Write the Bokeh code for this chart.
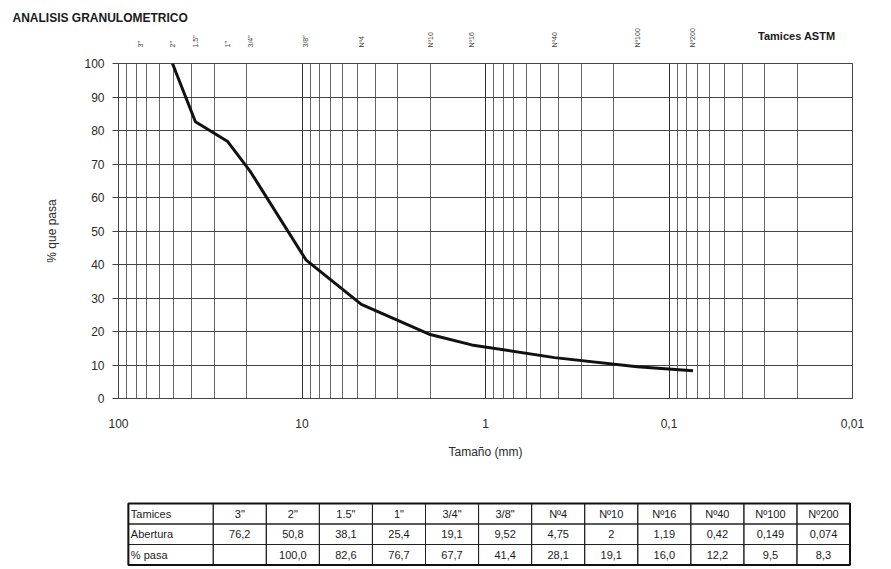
from bokeh.plotting import figure
from bokeh.models import Range1d, FixedTicker, LogAxis, Title
from bokeh.layouts import column
from bokeh.embed import file_html
from bokeh.resources import INLINE
from bokeh.core.properties import value

# ---- data ----
tamices = ['3"', '2"', '1.5"', '1"', '3/4"', '3/8"', 'Nº4', 'Nº10', 'Nº16', 'Nº40', 'Nº100', 'Nº200']
abertura = [76.2, 50.8, 38.1, 25.4, 19.1, 9.52, 4.75, 2.0, 1.19, 0.42, 0.149, 0.074]
pasa = [None, 100.0, 82.6, 76.7, 67.7, 41.4, 28.1, 19.1, 16.0, 12.2, 9.5, 8.3]
y_ticks = [0, 10, 20, 30, 40, 50, 60, 70, 80, 90, 100]
x_ticks = [100, 10, 1, 0.1, 0.01]
x_tick_labels = ["100", "10", "1", "0,1", "0,01"]
row_names = ["Tamices", "Abertura", "% pasa"]

FONT = "Liberation Sans"
INK = "#1a1a1a"

# minor log grid positions (2..9 per decade)
minor = []
for e in range(-2, 2):
    for m in range(2, 10):
        minor.append(m * 10 ** e)

p = figure(width=891, height=498, x_axis_type="log",
           x_range=Range1d(100, 0.01), y_range=Range1d(0, 100),
           output_backend="svg", toolbar_location=None,
           min_border_left=118, min_border_right=39,
           min_border_top=63, min_border_bottom=100)
p.background_fill_color = "white"
p.border_fill_color = "white"
p.outline_line_color = "#444444"

p.xaxis.ticker = FixedTicker(ticks=x_ticks, minor_ticks=minor)
p.xaxis.major_label_overrides = {t: l for t, l in zip(x_ticks, x_tick_labels)}
p.yaxis.ticker = FixedTicker(ticks=y_ticks)

for ax in (p.xaxis[0], p.yaxis[0]):
    ax.major_label_text_font = FONT
    ax.major_label_text_font_size = "12px"
    ax.major_label_text_color = "#2a2a2a"
    ax.axis_label_text_font = FONT
    ax.axis_label_text_font_size = "12px"
    ax.axis_label_text_font_style = "normal"
    ax.axis_label_text_color = "#2a2a2a"
    ax.minor_tick_line_color = None
    ax.axis_line_color = "#444444"

p.xaxis.axis_label = "Tamaño (mm)"
p.xaxis.major_tick_line_color = None
p.xaxis.major_label_standoff = 14
p.xaxis.axis_label_standoff = 14
p.yaxis.axis_label = "% que pasa"
p.yaxis.major_tick_in = 0
p.yaxis.major_tick_out = 6
p.yaxis.major_tick_line_color = "#444444"
p.yaxis.major_label_standoff = 8
p.yaxis.axis_label_standoff = 22

p.xgrid.grid_line_color = "#333333"
p.xgrid.grid_line_alpha = 1
p.xgrid.minor_grid_line_color = "#666666"
p.xgrid.minor_grid_line_alpha = 1
p.ygrid.grid_line_color = "#444444"
p.ygrid.grid_line_alpha = 1

xs = [a for a, v in zip(abertura, pasa) if v is not None]
ys = [v for v in pasa if v is not None]
p.line(xs, ys, line_color="#111111", line_width=3)

# sieve names above the chart (top axis)
top_ax = LogAxis(ticker=FixedTicker(ticks=abertura),
                 major_label_overrides={a: s for a, s in zip(abertura, tamices)},
                 major_label_orientation="vertical",
                 major_label_standoff=10,
                 major_label_text_font=FONT, major_label_text_font_size="7px",
                 major_label_text_color="#444444",
                 major_tick_line_color=None, minor_tick_line_color=None,
                 axis_line_color=None)
p.add_layout(top_ax, "above")

p.add_layout(Title(text="Tamices ASTM", align="right", offset=17, standoff=-33,
                   text_font=FONT, text_font_size="11px", text_font_style="bold",
                   text_color=INK), "above")
p.add_layout(Title(text="ANALISIS GRANULOMETRICO", align="left", offset=-106, standoff=2,
                   text_font=FONT, text_font_size="12px", text_font_style="bold",
                   text_color=INK), "above")

# ---- table ----
t = figure(width=891, height=71, x_range=Range1d(0, 891), y_range=Range1d(71, 0),
           output_backend="svg", toolbar_location=None, min_border=0)
t.axis.visible = False
t.grid.visible = False
t.outline_line_color = None
t.background_fill_color = "white"
t.border_fill_color = "white"

x0, first_w, x_end = 12, 103, 888
n = len(tamices)
cw = (x_end - x0 - first_w) / n
lefts = [x0] + [x0 + first_w + i * cw for i in range(n)]
rights = [x0 + first_w] + [x0 + first_w + (i + 1) * cw for i in range(n)]
row_top, rh = 5, 20.5

def fmt_ab(v):
    return f"{v:g}".replace(".", ",")

def fmt_pa(v):
    return "" if v is None else f"{v:.1f}".replace(".", ",")

rows = [tamices, [fmt_ab(v) for v in abertura], [fmt_pa(v) for v in pasa]]

L, R, T, B = [], [], [], []
tx, ty, tt, ta = [], [], [], []
for r in range(3):
    top = row_top + r * rh
    for c in range(n + 1):
        L.append(lefts[c]); R.append(rights[c]); T.append(top); B.append(top + rh)
    tx.append(lefts[0] + 3); ty.append(top + rh / 2); tt.append(row_names[r]); ta.append("left")
    for c in range(n):
        tx.append((lefts[c + 1] + rights[c + 1]) / 2); ty.append(top + rh / 2)
        tt.append(rows[r][c]); ta.append("center")

t.quad(left=L, right=R, top=T, bottom=B, fill_color=None, line_color="#222222", line_width=1)
t.quad(left=[x0], right=[x_end], top=[row_top], bottom=[row_top + 3 * rh],
       fill_color=None, line_color="#111111", line_width=2)
t.text(x=tx, y=ty, text=tt, text_align=ta, text_baseline="middle",
       text_font=value(FONT), text_font_size="11px", text_color=INK)

layout = column(p, t, spacing=0)
open("out.html", "w").write(file_html(layout, INLINE))
